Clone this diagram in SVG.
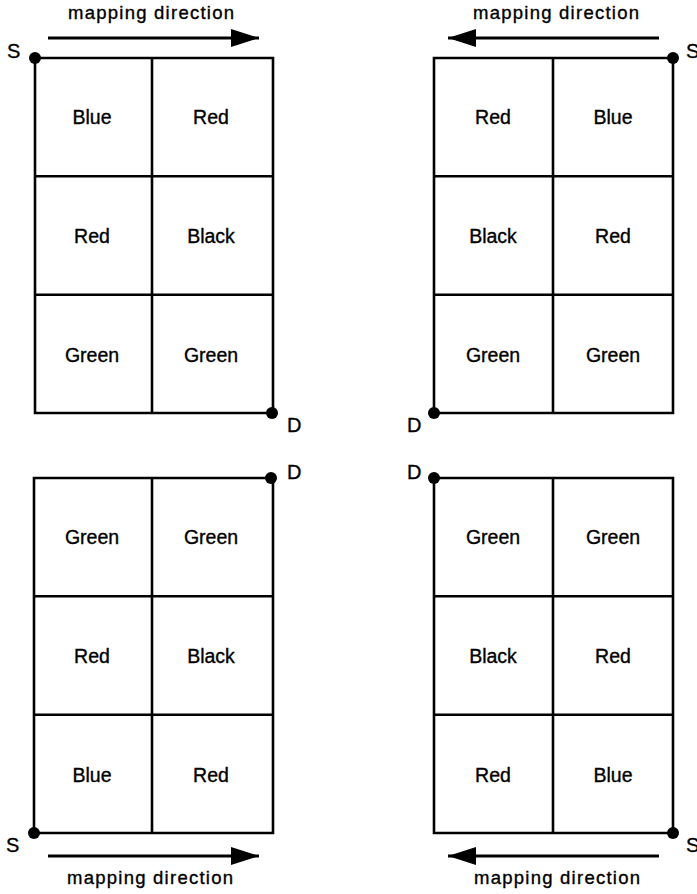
<svg xmlns="http://www.w3.org/2000/svg" width="697" height="894" viewBox="0 0 697 894">
<style>
.grid{fill:none;stroke:#000;stroke-width:2.6}
.cell{font-family:"Liberation Sans",Arial,sans-serif;font-size:19.5px;text-anchor:middle;fill:#000;stroke:#000;stroke-width:0.35}
.lbl{font-family:"Liberation Sans",Arial,sans-serif;font-size:20px;fill:#000;stroke:#000;stroke-width:0.35}
.cap{font-family:"Liberation Sans",Arial,sans-serif;font-size:18.5px;text-anchor:middle;fill:#000;stroke:#000;stroke-width:0.35}
.arr{stroke:#000;stroke-width:2.8;fill:none;marker-end:url(#ah)}
</style>
<defs>
<marker id="ah" markerUnits="userSpaceOnUse" markerWidth="30" markerHeight="20" refX="28" refY="9" orient="auto">
<path d="M0,0 L28,9 L0,18 Z" fill="#000"/>
</marker>
</defs>
<rect width="697" height="894" fill="#fff"/>

<g id="panel-top-left">
<path class="grid" d="M35,58 H273 V413 H35 Z M152,58 V413 M35,176.3 H273 M35,294.7 H273"/>
<circle cx="35" cy="58" r="6"/>
<circle cx="272" cy="413" r="6"/>
<text class="lbl" x="7" y="58">S</text>
<text class="lbl" x="287" y="432">D</text>
<text class="cell" x="92" y="124">Blue</text>
<text class="cell" x="211" y="124">Red</text>
<text class="cell" x="92" y="243">Red</text>
<text class="cell" x="211" y="243">Black</text>
<text class="cell" x="92" y="362">Green</text>
<text class="cell" x="211" y="362">Green</text>
<text class="cap" x="151" y="19" textLength="166" lengthAdjust="spacing">mapping direction</text>
</g>

<g id="panel-top-right">
<path class="grid" d="M434,58 H673 V413 H434 Z M553,58 V413 M434,176.3 H673 M434,294.7 H673"/>
<circle cx="673" cy="58" r="6"/>
<circle cx="434" cy="413" r="6"/>
<text class="lbl" x="686" y="58">S</text>
<text class="lbl" x="407" y="432">D</text>
<text class="cell" x="493" y="124">Red</text>
<text class="cell" x="613" y="124">Blue</text>
<text class="cell" x="493" y="243">Black</text>
<text class="cell" x="613" y="243">Red</text>
<text class="cell" x="493" y="362">Green</text>
<text class="cell" x="613" y="362">Green</text>
<text class="cap" x="556" y="19" textLength="166" lengthAdjust="spacing">mapping direction</text>
</g>

<g id="panel-bottom-left">
<path class="grid" d="M34,478 H273 V833 H34 Z M152,478 V833 M34,596.3 H273 M34,714.7 H273"/>
<circle cx="271" cy="478" r="6"/>
<circle cx="34" cy="833" r="6"/>
<text class="lbl" x="287" y="479">D</text>
<text class="lbl" x="6" y="852">S</text>
<text class="cell" x="92" y="544">Green</text>
<text class="cell" x="211" y="544">Green</text>
<text class="cell" x="92" y="663">Red</text>
<text class="cell" x="211" y="663">Black</text>
<text class="cell" x="92" y="782">Blue</text>
<text class="cell" x="211" y="782">Red</text>
<text class="cap" x="150" y="884" textLength="166" lengthAdjust="spacing">mapping direction</text>
</g>

<g id="panel-bottom-right">
<path class="grid" d="M434,478 H673 V833 H434 Z M553,478 V833 M434,596.3 H673 M434,714.7 H673"/>
<circle cx="434" cy="478" r="6"/>
<circle cx="673" cy="833" r="6"/>
<text class="lbl" x="407" y="479">D</text>
<text class="lbl" x="686" y="852">S</text>
<text class="cell" x="493" y="544">Green</text>
<text class="cell" x="613" y="544">Green</text>
<text class="cell" x="493" y="663">Black</text>
<text class="cell" x="613" y="663">Red</text>
<text class="cell" x="493" y="782">Red</text>
<text class="cell" x="613" y="782">Blue</text>
<text class="cap" x="557" y="884" textLength="166" lengthAdjust="spacing">mapping direction</text>
</g>

<g id="connectors">
<line class="arr" x1="48" y1="38" x2="259" y2="38"/>
<line class="arr" x1="659" y1="38" x2="448" y2="38"/>
<line class="arr" x1="48" y1="856" x2="259" y2="856"/>
<line class="arr" x1="659" y1="856" x2="448" y2="856"/>
</g>
</svg>
